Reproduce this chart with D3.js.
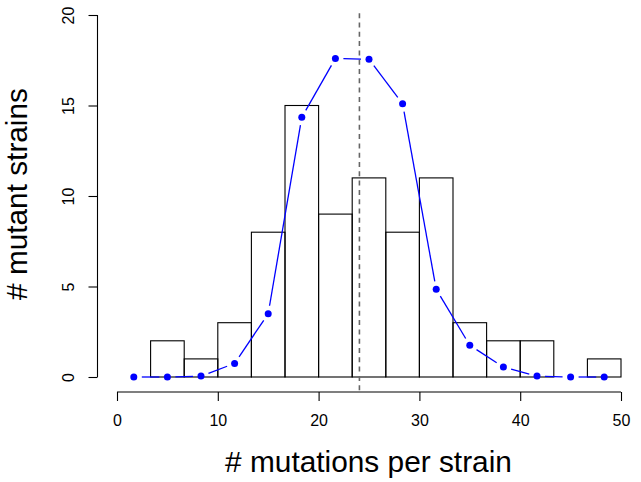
<!DOCTYPE html>
<html><head><meta charset="utf-8">
<script src="https://cdn.jsdelivr.net/npm/d3@7"></script>
<style>body{margin:0;background:#fff}svg{display:block}</style>
</head><body><svg id="c" width="641" height="482"></svg>
<script>
const breaks = [0, 3.333, 6.667, 10, 13.333, 16.667, 20, 23.333, 26.667, 30, 33.333, 36.667, 40, 43.333, 46.667, 50];
const counts = [0, 2, 1, 3, 8, 15, 9, 11, 8, 11, 3, 2, 2, 0, 1];
const mids = [1.667, 5, 8.333, 11.667, 15, 18.333, 21.667, 25, 28.333, 31.667, 35, 38.333, 41.667, 45, 48.333];
const expected = [0, 0, 0.05, 0.75, 3.5, 14.35, 17.6, 17.55, 15.1, 4.85, 1.75, 0.55, 0.05, 0, 0];
const xTicks = [0, 10, 20, 30, 40, 50];
const yTicks = [0, 5, 10, 15, 20];
const meanLine = 24.05;

const svg = d3.select("#c");
const x = d3.scaleLinear().domain([0, 50]).range([117, 621]);
const y = d3.scaleLinear().domain([0, 20]).range([377, 15]);
const font = "Liberation Sans, Arial, sans-serif";

// bars
svg.append("g").selectAll("rect").data(counts.map((c, i) => ({c, a: breaks[i], b: breaks[i+1]})))
  .join("rect")
  .attr("x", d => x(d.a)).attr("y", d => y(d.c))
  .attr("width", d => x(d.b) - x(d.a)).attr("height", d => y(0) - y(d.c))
  .attr("fill", "none").attr("stroke", "#000").attr("stroke-width", 1.1);

// dashed mean line
svg.append("line").attr("x1", x(meanLine)).attr("x2", x(meanLine))
  .attr("y1", y(20.1)).attr("y2", y(-0.85))
  .attr("stroke", "#666").attr("stroke-width", 1.6).attr("stroke-dasharray", "5,4.3");

// blue line with gaps (type "b")
const pts = mids.map((m, i) => [x(m), y(expected[i])]);
const gap = 8;
const segs = [];
for (let i = 0; i < pts.length - 1; i++) {
  const [x1, y1] = pts[i], [x2, y2] = pts[i+1];
  const dx = x2 - x1, dy = y2 - y1, L = Math.hypot(dx, dy);
  if (L > 2 * gap) segs.push([x1 + dx / L * gap, y1 + dy / L * gap, x2 - dx / L * gap, y2 - dy / L * gap]);
}
svg.append("g").selectAll("line").data(segs).join("line")
  .attr("x1", d => d[0]).attr("y1", d => d[1]).attr("x2", d => d[2]).attr("y2", d => d[3])
  .attr("stroke", "#0000ff").attr("stroke-width", 1.3);
svg.append("g").selectAll("circle").data(pts).join("circle")
  .attr("cx", d => d[0]).attr("cy", d => d[1]).attr("r", 3.5).attr("fill", "#0000ff");

// x axis
const xa = svg.append("g").attr("transform", "translate(0,392)")
  .call(d3.axisBottom(x).tickValues(xTicks).tickSize(9).tickPadding(14).tickFormat(d3.format("d")));
xa.select(".domain").attr("d", `M${x(0)},0H${x(50)}`).attr("stroke-width", 1.1);
xa.selectAll(".tick line").attr("stroke-width", 1.1);
xa.selectAll("text").attr("font-family", font).attr("font-size", 16).attr("fill", "#000");

// y axis
const ya = svg.append("g").attr("transform", "translate(97.5,0)")
  .call(d3.axisLeft(y).tickValues(yTicks).tickSize(9).tickFormat(d3.format("d")));
ya.select(".domain").attr("d", `M0,${y(0)}V${y(20)}`).attr("stroke-width", 1.1);
ya.selectAll(".tick line").attr("stroke-width", 1.1);
ya.selectAll(".tick text").attr("font-family", font).attr("font-size", 16).attr("fill", "#000")
  .attr("text-anchor", "middle").attr("x", 0).attr("y", 0).attr("dy", "0.35em")
  .attr("transform", "translate(-29,0) rotate(-90)");

// axis titles
const xt = svg.append("text").attr("x", (225 + 512) / 2).attr("y", 472).attr("text-anchor", "middle")
  .attr("font-family", font).attr("font-size", 24).text("# mutations per strain");
const yt = svg.append("text").attr("transform", `translate(27,${(88 + 300) / 2}) rotate(-90)`).attr("text-anchor", "middle")
  .attr("font-family", font).attr("font-size", 24).text("# mutant strains");
// fit widths to the reference
xt.attr("font-size", 24 * 287 / xt.node().getComputedTextLength());
yt.attr("font-size", 24 * 212 / yt.node().getComputedTextLength());
</script></body></html>
